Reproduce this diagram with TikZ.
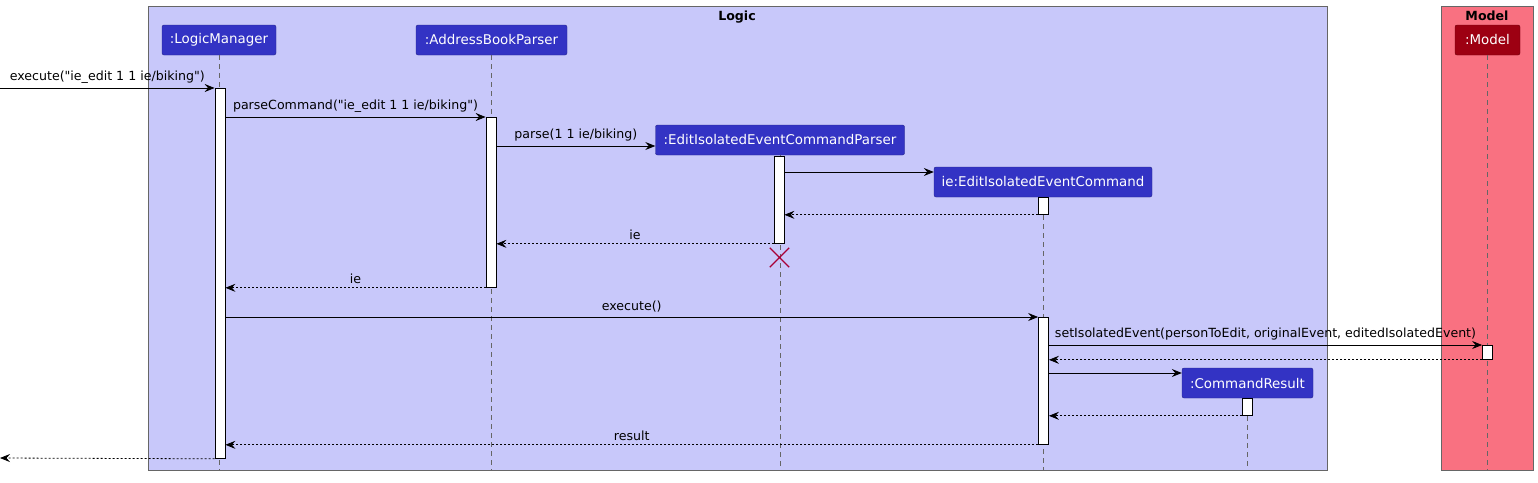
\documentclass[tikz,border=0pt]{standalone}
\usepackage{fontspec}
\setmainfont{DejaVu Sans}[Ligatures=TeXOff]
\usetikzlibrary{arrows.meta, positioning, shapes.misc}
\definecolor{logicazul}{HTML}{3333C4}
\definecolor{logicfondo}{HTML}{C8C8FA}
\definecolor{modelrojo}{HTML}{9D0012}
\definecolor{modelfondo}{HTML}{F97181}
\definecolor{cruz}{HTML}{A80036}

\begin{document}
\begin{tikzpicture}[>={Stealth[length=10pt, width=8pt, inset=3.5pt]}, x=1pt, y=-1pt,
  participante/.style={rectangle, rounded corners=2pt, fill=logicazul, draw=logicazul!70!black,
    text=white, minimum height=30, inner sep=0pt, font=\fontsize{13.4}{16}\selectfont},
  activacion/.style={rectangle, draw=black, fill=white, minimum width=10, inner sep=0pt,
    anchor=north, line width=0.8pt},
  vida/.style={draw=gray!80!black, dash pattern=on 5pt off 4pt, line width=0.7pt},
  mensaje/.style={->, line width=0.8pt},
  retorno/.style={->, line width=0.8pt, dash pattern=on 2pt off 2pt},
  etiqueta/.style={above, inner sep=4pt, font=\fontsize{12.6}{15}\selectfont},
  titulo/.style={font=\fontsize{12.6}{15}\selectfont\bfseries}]
  \useasboundingbox (0,0) rectangle (1538,482);

  % Cajas Logic y Model
  \draw[fill=logicfondo, draw=gray!80!black] (148,6) rectangle (1327,470);
  \node[titulo] (logic) at (737,17) {Logic};
  \draw[fill=modelfondo, draw=gray!80!black] (1441,6) rectangle (1533,470);
  \node[titulo] (model) at (1487,16) {Model};

  % Participantes
  \node[participante, minimum width=114] (lm) at (219,40) {:LogicManager};
  \node[participante, minimum width=151] (abp) at (491.5,40) {:AddressBookParser};
  \node[participante, minimum width=249] (eicp) at (780,140) {:EditIsolatedEventCommandParser};
  \node[participante, minimum width=218] (ie) at (1043,182) {ie:EditIsolatedEventCommand};
  \node[participante, minimum width=131] (cr) at (1247.5,383) {:CommandResult};
  \node[participante, minimum width=65, fill=modelrojo, draw=modelrojo!70!black] (mod) at (1487.5,40) {:Model};

  % Lineas de vida
  \foreach \p in {lm, abp, eicp, ie, cr, mod}
    \draw[vida] (\p.south) -- (\p.south |- 0,471);

  % Activaciones
  \node[activacion, minimum height=370] (lmA) at (220,88) {};
  \node[activacion, minimum height=170] (abpA) at (491,117) {};
  \node[activacion, minimum height=87] (eicpA) at (779,156) {};
  \node[activacion, minimum height=17] (ieA1) at (1043.5,197) {};
  \node[activacion, minimum height=127] (ieA2) at (1043.5,317) {};
  \node[activacion, minimum height=14] (modA) at (1487.5,345) {};
  \node[activacion, minimum height=17] (crA) at (1247.5,398) {};

  % Fin del parser
  \node[cross out, draw=cruz, line width=1.3pt, minimum size=18, inner sep=0pt] (fin) at (779.5,257.5) {};

  % Mensajes
  \coordinate (entrada) at (0,88);
  \coordinate (salida) at (0,458);
  \draw[mensaje] (entrada) -- (lmA.north west) node[etiqueta, midway] {execute("ie\_edit 1 1 ie/biking")};
  \draw[mensaje] (lmA.east |- abpA.north) -- (abpA.north west) node[etiqueta, midway] {parseCommand("ie\_edit 1 1 ie/biking")};
  \draw[mensaje] (abpA.east |- 0,146) -- (eicp.west |- 0,146) node[etiqueta, midway] {parse(1 1 ie/biking)};
  \draw[mensaje] (eicpA.east |- 0,172) -- (ie.west |- 0,172);
  \draw[retorno] (ieA1.south west) -- (eicpA.east |- ieA1.south);
  \draw[retorno] (eicpA.south west) -- (abpA.east |- eicpA.south) node[etiqueta, midway] {ie};
  \draw[retorno] (abpA.south west) -- (lmA.east |- abpA.south) node[etiqueta, midway] {ie};
  \draw[mensaje] (lmA.east |- ieA2.north) -- (ieA2.north west) node[etiqueta, midway] {execute()};
  \draw[mensaje] (ieA2.east |- modA.north) -- (modA.north west) node[etiqueta, midway] {setIsolatedEvent(personToEdit, originalEvent, editedIsolatedEvent)};
  \draw[retorno] (modA.south west) -- (ieA2.east |- modA.south);
  \draw[mensaje] (ieA2.east |- 0,373) -- (cr.west |- 0,373);
  \draw[retorno] (crA.south west) -- (ieA2.east |- crA.south);
  \draw[retorno] (ieA2.south west) -- (lmA.east |- ieA2.south) node[etiqueta, midway] {result};
  \draw[retorno] (lmA.south west) -- (salida);

\end{tikzpicture}
\end{document}
